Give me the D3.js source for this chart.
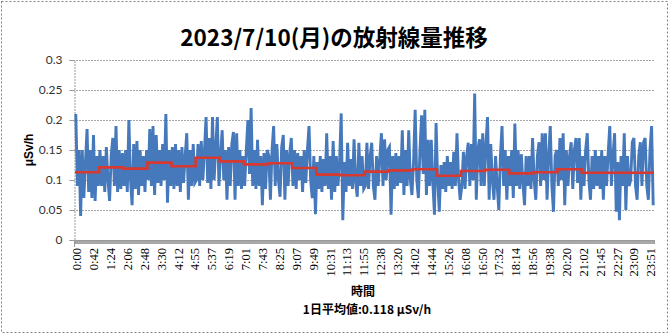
<!DOCTYPE html>
<html><head><meta charset="utf-8">
<script src="https://cdn.jsdelivr.net/npm/d3@7"></script>
<style>html,body{margin:0;padding:0;background:#fff;}svg{display:block;}</style>
</head><body>
<svg id="c" width="670" height="336"></svg>
<script>
const title = "2023/7/10(月)の放射線量推移";
const yTitle = "μSv/h";
const xTitle = "時間";
const footer = "1日平均値:0.118 μSv/h";
const yTicks = [0, 0.05, 0.1, 0.15, 0.2, 0.25, 0.3];
const xTickLabels = ["0:00","0:42","1:24","2:06","2:48","3:30","4:12","4:55","5:37","6:19","7:01","7:43","8:25","9:07","9:49","10:31","11:13","11:55","12:38","13:20","14:02","14:44","15:26","16:08","16:50","17:32","18:14","18:56","19:38","20:20","21:02","21:45","22:27","23:09","23:51"];
// dose rate samples (every 4 minutes, 15 per hour)
const doseRate = [
0.21,0.09,0.15,0.04,0.15,0.07,0.13,0.185,0.08,0.15,0.07,0.175,0.065,0.14,0.09,
0.15,0.09,0.14,0.08,0.155,0.1,0.065,0.14,0.17,0.09,0.19,0.08,0.15,0.085,0.145,
0.09,0.15,0.08,0.2,0.1,0.058,0.16,0.085,0.165,0.075,0.15,0.09,0.14,0.08,0.15,
0.1,0.185,0.09,0.19,0.075,0.175,0.095,0.15,0.09,0.16,0.1,0.21,0.062,0.15,0.09,
0.155,0.085,0.16,0.09,0.15,0.08,0.155,0.095,0.14,0.178,0.067,0.15,0.09,0.16,0.095,
0.1,0.16,0.09,0.165,0.1,0.15,0.205,0.095,0.17,0.085,0.205,0.1,0.155,0.205,0.09,
0.14,0.183,0.1,0.15,0.067,0.155,0.09,0.16,0.18,0.067,0.178,0.09,0.15,0.085,0.14,
0.09,0.15,0.2,0.11,0.22,0.09,0.15,0.085,0.167,0.09,0.14,0.058,0.145,0.085,0.15,
0.14,0.067,0.15,0.19,0.09,0.16,0.1,0.072,0.155,0.175,0.067,0.15,0.09,0.145,0.17,
0.09,0.15,0.085,0.145,0.1,0.14,0.08,0.15,0.095,0.15,0.19,0.1,0.07,0.14,0.043,
0.13,0.085,0.14,0.08,0.135,0.09,0.178,0.085,0.14,0.067,0.165,0.08,0.14,0.09,0.13,
0.211,0.033,0.13,0.08,0.162,0.09,0.135,0.085,0.168,0.095,0.072,0.162,0.09,0.14,0.085,
0.09,0.162,0.085,0.14,0.162,0.09,0.067,0.14,0.09,0.135,0.178,0.09,0.168,0.1,0.15,
0.155,0.042,0.14,0.085,0.145,0.09,0.14,0.095,0.183,0.075,0.15,0.09,0.183,0.1,0.075,
0.13,0.217,0.1,0.07,0.15,0.208,0.11,0.217,0.075,0.167,0.09,0.167,0.095,0.042,0.195,
0.1,0.047,0.125,0.085,0.13,0.08,0.14,0.09,0.13,0.085,0.147,0.09,0.178,0.1,0.067,
0.09,0.147,0.085,0.14,0.162,0.09,0.16,0.1,0.244,0.067,0.15,0.168,0.09,0.178,0.09,
0.16,0.205,0.067,0.16,0.1,0.067,0.14,0.09,0.05,0.14,0.19,0.09,0.15,0.067,0.14,
0.09,0.15,0.07,0.194,0.09,0.15,0.085,0.143,0.095,0.058,0.14,0.09,0.14,0.085,0.17,
0.1,0.067,0.14,0.163,0.09,0.178,0.1,0.178,0.067,0.14,0.19,0.09,0.047,0.14,0.15,
0.09,0.17,0.1,0.178,0.058,0.15,0.09,0.14,0.163,0.085,0.15,0.17,0.095,0.17,0.067,
0.14,0.09,0.15,0.178,0.1,0.067,0.14,0.085,0.15,0.09,0.14,0.085,0.15,0.067,0.14,
0.09,0.145,0.19,0.09,0.14,0.178,0.047,0.13,0.033,0.14,0.09,0.178,0.05,0.14,0.09,
0.1,0.163,0.17,0.09,0.067,0.14,0.163,0.09,0.163,0.17,0.09,0.067,0.15,0.19,0.058
];
// hourly averages
const hourlyAvg = [0.113,0.121,0.119,0.129,0.123,0.137,0.131,0.126,0.128,0.12,0.109,0.108,0.114,0.116,0.118,0.107,0.115,0.117,0.111,0.113,0.118,0.112,0.112,0.112];

const svg = d3.select("#c");
const L = 75, R = 654, T = 60, B = 240;
const x = d3.scaleLinear().domain([0, 1440]).range([L, R]);
const y = d3.scaleLinear().domain([0, 0.3]).range([B, T]);

// outer border
svg.append("rect").attr("x", 1.5).attr("y", 1.5).attr("width", 666).attr("height", 331)
  .attr("fill", "none").attr("stroke", "#808080").attr("stroke-width", 1).attr("stroke-dasharray", "2,2");

// title
svg.append("text").attr("x", 334).attr("y", 36).attr("text-anchor", "middle").attr("dominant-baseline", "central")
  .attr("font-family", "'Noto Sans CJK JP', sans-serif").attr("font-weight", "bold").attr("font-size", 22.5)
  .attr("fill", "#000").text(title);

// gridlines
svg.append("g").selectAll("line").data(yTicks.filter(d => d > 0)).join("line")
  .attr("x1", L - 5).attr("x2", R).attr("y1", d => Math.round(y(d)) + 0.5).attr("y2", d => Math.round(y(d)) + 0.5)
  .attr("stroke", "#a6a6a6").attr("stroke-width", 1).attr("stroke-dasharray", "2,1");

// y axis
const yAxis = svg.append("g").attr("transform", `translate(${L - 0.5},0)`)
  .call(d3.axisLeft(y).tickValues(yTicks).tickSize(5).tickFormat(d => d3.format("")(+d.toFixed(2))));
yAxis.select(".domain").attr("stroke", "#999").attr("stroke-dasharray", "2,1");
yAxis.selectAll(".tick line").attr("stroke", "#999");
yAxis.selectAll("text").attr("font-family", "Lato, 'Open Sans', sans-serif").attr("font-size", 12)
  .attr("fill", "#333").attr("x", -12);

// x axis minor ticks band
const minor = d3.range(0, 1441);
svg.append("g").attr("transform", `translate(0,${B})`)
  .call(d3.axisBottom(x).tickValues(minor).tickSize(4).tickFormat(""))
  .call(g => g.select(".domain").attr("stroke", "#999"))
  .call(g => g.selectAll(".tick line").attr("stroke", "#9a9a9a").attr("stroke-width", 0.6));
svg.append("line").attr("x1", L - 0.5).attr("x2", L - 0.5).attr("y1", B).attr("y2", B + 7).attr("stroke", "#999");

// x tick labels
svg.append("g").selectAll("text").data(xTickLabels).join("text")
  .attr("transform", (d, i) => `translate(${x(42 * i + 0.5) + 2},248) rotate(-90)`)
  .attr("text-anchor", "end").attr("dominant-baseline", "central")
  .attr("font-family", "'Liberation Serif', serif").attr("font-size", 12.5).attr("fill", "#000")
  .text(d => d);

// blue series
const line = d3.line().x((d, j) => x(4 * j + 2)).y(d => y(d));
svg.append("path").datum(doseRate).attr("d", line).attr("fill", "none")
  .attr("stroke", "#4679bb").attr("stroke-width", 2.9).attr("stroke-linejoin", "miter");

// red hourly average (step)
const steps = hourlyAvg.concat([hourlyAvg[hourlyAvg.length - 1]]);
const stepLine = d3.line().x((d, h) => x(60 * h)).y(d => y(d)).curve(d3.curveStepAfter);
svg.append("path").datum(steps).attr("d", stepLine).attr("fill", "none")
  .attr("stroke", "#d7382f").attr("stroke-width", 2.6);

// axis titles
svg.append("text").attr("transform", "translate(29,150) rotate(-90)").attr("text-anchor", "middle")
  .attr("dominant-baseline", "central").attr("font-family", "'Liberation Sans', sans-serif")
  .attr("font-weight", "bold").attr("font-size", 12).text(yTitle);
svg.append("text").attr("x", 363).attr("y", 290.5).attr("text-anchor", "middle").attr("dominant-baseline", "central")
  .attr("font-family", "'Noto Sans CJK JP', sans-serif").attr("font-weight", "bold").attr("font-size", 12).text(xTitle);
svg.append("text").attr("x", 367).attr("y", 308.5).attr("text-anchor", "middle").attr("dominant-baseline", "central")
  .attr("font-family", "'Noto Sans CJK JP', sans-serif").attr("font-weight", "bold").attr("font-size", 12).text(footer);
</script>
</body></html>
